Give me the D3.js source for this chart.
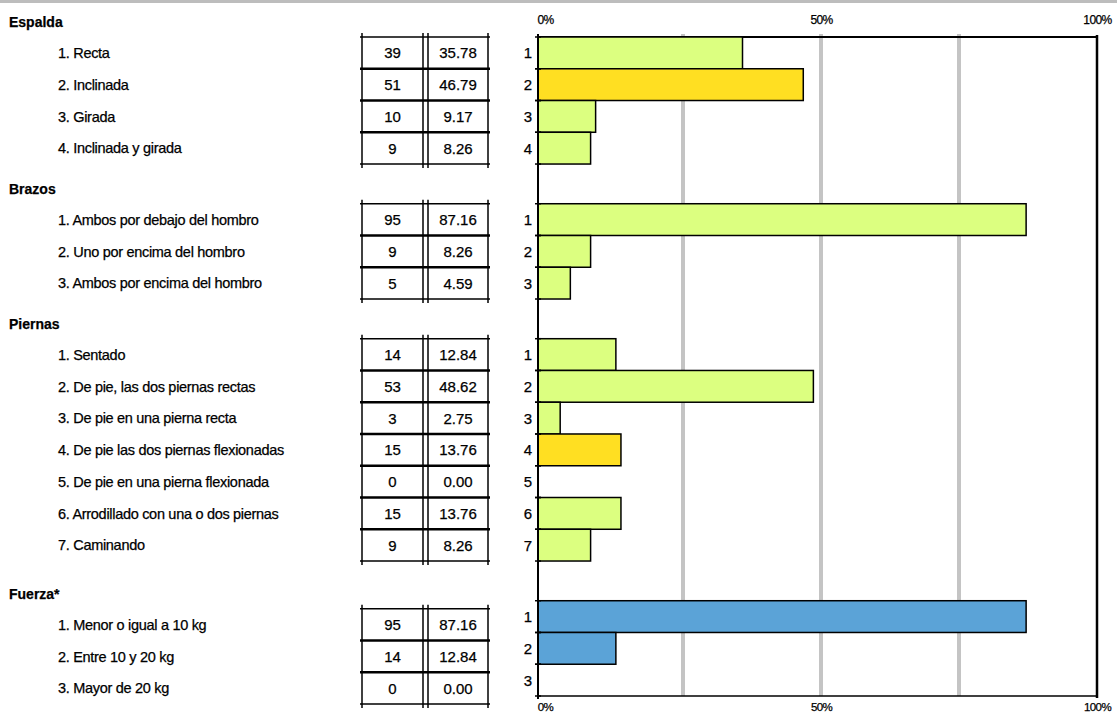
<!DOCTYPE html>
<html>
<head>
<meta charset="utf-8">
<script src="https://cdn.jsdelivr.net/npm/d3@7"></script>
<style>
  body { margin: 0; background: #fff; }
  svg { display: block; }
  text { font-family: "Liberation Sans", Arial, sans-serif; fill: #000; stroke: #000; stroke-width: 0.25px; }
</style>
</head>
<body>
<svg id="chart"></svg>
<script>
// group headers
const groups = ["Espalda", "Brazos", "Piernas", "Fuerza*"]

// row labels per group
const espaldaLabels = ["1. Recta", "2. Inclinada", "3. Girada", "4. Inclinada y girada"]
const brazosLabels = ["1. Ambos por debajo del hombro", "2. Uno por encima del hombro", "3. Ambos por encima del hombro"]
const piernasLabels = ["1. Sentado", "2. De pie, las dos piernas rectas", "3. De pie en una pierna recta",
    "4. De pie las dos piernas flexionadas", "5. De pie en una pierna flexionada",
    "6. Arrodillado con una o dos piernas", "7. Caminando"]
const fuerzaLabels = ["1. Menor o igual a 10 kg", "2. Entre 10 y 20 kg", "3. Mayor de 20 kg"]

// counts
const espaldaCounts = [39, 51, 10, 9]
const brazosCounts = [95, 9, 5]
const piernasCounts = [14, 53, 3, 15, 0, 15, 9]
const fuerzaCounts = [95, 14, 0]

// percentages
const espaldaPcts = [35.78, 46.79, 9.17, 8.26]
const brazosPcts = [87.16, 8.26, 4.59]
const piernasPcts = [12.84, 48.62, 2.75, 13.76, 0.00, 13.76, 8.26]
const fuerzaPcts = [87.16, 12.84, 0.00]

// highlighted rows (bar drawn in yellow)
const espaldaHighlight = [2]
const brazosHighlight = []
const piernasHighlight = [4]

const tickValues = [0, 50, 100]
const gridValues = [25, 50, 75]

const green = "#dcff80", yellow = "#ffdf22", blue = "#5ba3d7"

const allLabels = [espaldaLabels, brazosLabels, piernasLabels, fuerzaLabels]
const allCounts = [espaldaCounts, brazosCounts, piernasCounts, fuerzaCounts]
const allPcts = [espaldaPcts, brazosPcts, piernasPcts, fuerzaPcts]
const allHighlight = [espaldaHighlight, brazosHighlight, piernasHighlight, []]

// build rows, placing groups in "row units" with a gap before each later group
let rows = []
let groupInfo = []
let u = 0
groups.forEach(function(g, gi) {
    if (gi > 0) u += 1.25
    let start = u
    allLabels[gi].forEach(function(lab, i) {
        let color = gi === 3 ? blue : (allHighlight[gi].indexOf(i + 1) >= 0 ? yellow : green)
        rows.push({ group: gi, idx: i, label: lab, count: allCounts[gi][i], pct: allPcts[gi][i],
            u0: u, u1: u + 1, color: color, shift: gi === 3 ? 8 : 0 })
        u += 1
    })
    groupInfo.push({ name: g, u0: start, u1: u, shift: gi === 3 ? 8 : 0 })
})

let svgWidth = 1117, svgHeight = 717
let svg = d3.select("#chart").attr("width", svgWidth).attr("height", svgHeight)

let x = d3.scaleLinear().domain([0, 100]).range([545, 1097])
let y = d3.scaleLinear().domain([0, u]).range([37, 696])
let pad = 7 // plot area starts a little left of the 0% position
let left = x(0) - pad

// top page edge
svg.append("line").attr("x1", 0).attr("x2", svgWidth).attr("y1", 1.5).attr("y2", 1.5)
    .attr("stroke", "#bdbdbd").attr("stroke-width", 3)

// gridlines
svg.append("g").selectAll("line").data(gridValues).join("line")
    .attr("x1", d => x(d)).attr("x2", d => x(d))
    .attr("y1", y(0) - 3).attr("y2", y(u))
    .attr("stroke", "#c4c4c4").attr("stroke-width", 4)

// frame: top, right, bottom
svg.append("line").attr("x1", left).attr("x2", x(100)).attr("y1", y(0)).attr("y2", y(0))
    .attr("stroke", "#000").attr("stroke-width", 2)
svg.append("line").attr("x1", x(100)).attr("x2", x(100)).attr("y1", y(0) - 2).attr("y2", y(u) + 2)
    .attr("stroke", "#000").attr("stroke-width", 2.5)
svg.append("line").attr("x1", left).attr("x2", x(100)).attr("y1", y(u)).attr("y2", y(u))
    .attr("stroke", "#000").attr("stroke-width", 1.5)

// bars
svg.append("g").selectAll("rect").data(rows.filter(d => d.pct > 0)).join("rect")
    .attr("x", left)
    .attr("y", d => y(d.u0))
    .attr("width", d => x(d.pct) - left)
    .attr("height", d => y(d.u1) - y(d.u0))
    .attr("fill", d => d.color)
    .attr("stroke", "#000")
    .attr("stroke-width", 1.5)

// left axis line and row ticks
svg.append("line").attr("x1", left).attr("x2", left).attr("y1", y(0) - 3).attr("y2", y(u) + 3)
    .attr("stroke", "#000").attr("stroke-width", 2)
let bounds = []
rows.forEach(function(d) { bounds.push(d.u0); bounds.push(d.u1) })
svg.append("g").selectAll("line").data(bounds).join("line")
    .attr("x1", left - 3).attr("x2", left + 3)
    .attr("y1", d => y(d)).attr("y2", d => y(d))
    .attr("stroke", "#000").attr("stroke-width", 1.5)

// category numbers
svg.append("g").selectAll("text").data(rows).join("text")
    .attr("x", left - 6).attr("y", d => (y(d.u0) + y(d.u1)) / 2)
    .attr("dy", "0.36em").attr("text-anchor", "end")
    .style("font-size", "15px")
    .text(d => d.idx + 1)

// percent axes
let fmt = d => d + "%"
svg.append("g").attr("transform", "translate(0," + (y(0) - 10) + ")")
    .call(d3.axisTop(x).tickValues(tickValues).tickFormat(fmt).tickSize(0))
    .call(g => g.select(".domain").remove())
    .selectAll("text").style("font-size", "12px").style("letter-spacing", "-0.6px").attr("font-family", null)
svg.append("g").attr("transform", "translate(0," + (y(u) + 4) + ")")
    .call(d3.axisBottom(x).tickValues(tickValues).tickFormat(fmt).tickSize(0))
    .call(g => g.select(".domain").remove())
    .selectAll("text").style("font-size", "11.5px").style("letter-spacing", "-0.6px").attr("font-family", null)

// group headers
svg.append("g").selectAll("text").data(groupInfo).join("text")
    .attr("x", 9).attr("y", d => y(d.u0) + d.shift - 15)
    .attr("dy", "0.36em")
    .style("font-size", "14px").style("font-weight", "bold")
    .text(d => d.name)

// row labels
svg.append("g").selectAll("text").data(rows).join("text")
    .attr("x", 58).attr("y", d => (y(d.u0) + y(d.u1)) / 2 + d.shift)
    .attr("dy", "0.36em")
    .style("font-size", "14.5px").style("letter-spacing", "-0.3px")
    .text(d => d.label)

// tables
let colX = [362, 423, 428, 488]
groupInfo.forEach(function(gi, k) {
    let t = svg.append("g")
    let top = y(gi.u0) + gi.shift, bot = y(gi.u1) + gi.shift
    let lines = rows.filter(d => d.group === k)
    let hs = [gi.u0].concat(lines.map(d => d.u1))
    t.selectAll("line.h").data(hs).join("line")
        .attr("x1", colX[0] - 2).attr("x2", colX[3] + 2)
        .attr("y1", d => y(d) + gi.shift).attr("y2", d => y(d) + gi.shift)
        .attr("stroke", "#000")
        .attr("stroke-width", (d, i) => (i === 0 || i === hs.length - 1) ? 1.5 : 2.5)
    t.selectAll("line.v").data(colX).join("line")
        .attr("x1", d => d).attr("x2", d => d)
        .attr("y1", top - 4).attr("y2", Math.min(bot + 4, svgHeight - 2))
        .attr("stroke", "#000").attr("stroke-width", 1.5)
    t.selectAll("text.c").data(lines).join("text")
        .attr("x", (colX[0] + colX[1]) / 2)
        .attr("y", d => (y(d.u0) + y(d.u1)) / 2 + d.shift)
        .attr("dy", "0.36em").attr("text-anchor", "middle")
        .style("font-size", "15px")
        .text(d => d.count)
    t.selectAll("text.p").data(lines).join("text")
        .attr("x", (colX[2] + colX[3]) / 2)
        .attr("y", d => (y(d.u0) + y(d.u1)) / 2 + d.shift)
        .attr("dy", "0.36em").attr("text-anchor", "middle")
        .style("font-size", "15px")
        .text(d => d.pct.toFixed(2))
})
</script>
</body>
</html>
